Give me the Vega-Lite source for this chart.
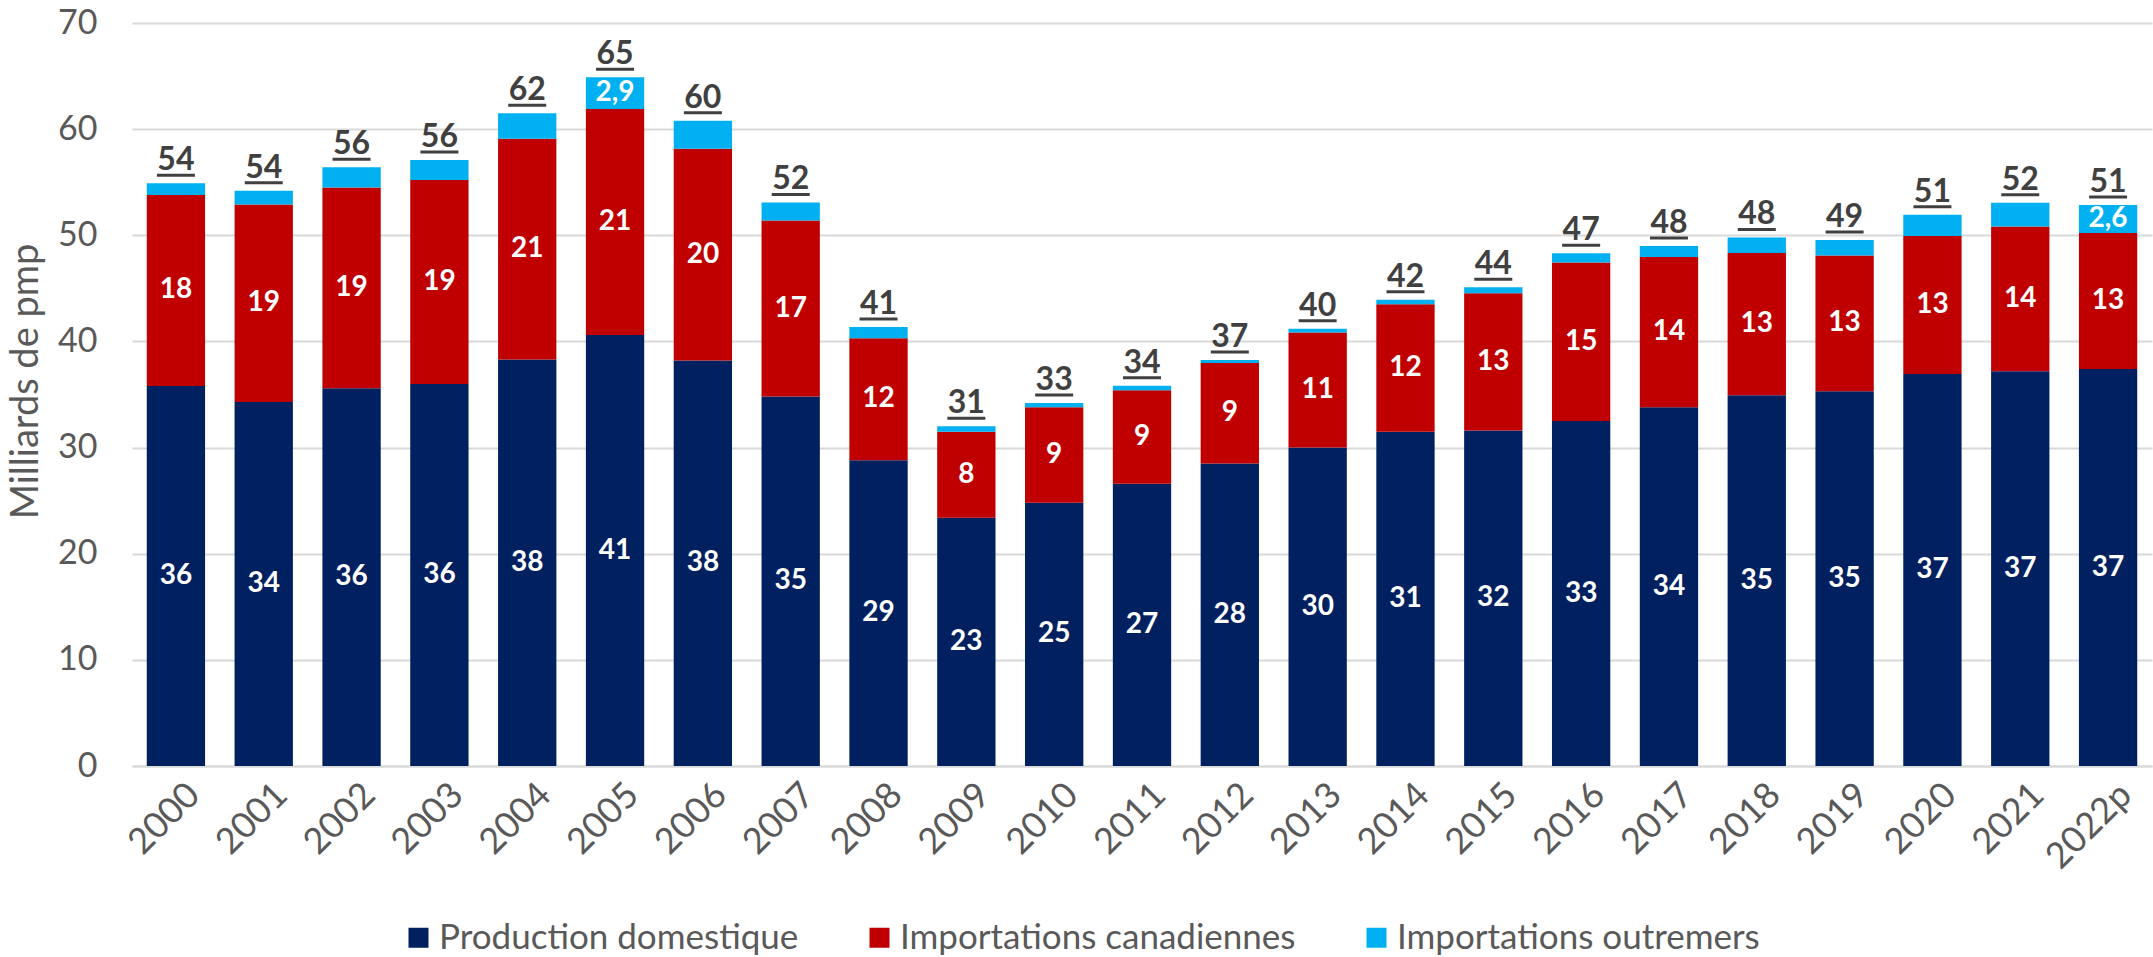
{
  "$schema": "https://vega.github.io/schema/vega-lite/v6.json",
  "width": 2020,
  "height": 743,
  "autosize": {"type": "none"},
  "padding": {"left": 132, "top": 23, "right": 1, "bottom": 191},
  "background": "white",
  "config": {
    "font": "Lato",
    "view": {"stroke": null},
    "axis": {"labelFont": "Lato", "labelColor": "#595959", "titleColor": "#595959", "titleFont": "Lato", "titleFontWeight": "normal", "domain": false, "ticks": false, "gridColor": "#D9D9D9", "gridWidth": 2},
    "axisX": {"labelFontSize": 36, "labelAngle": -45, "labelAlign": "right", "labelBaseline": "top", "labelPadding": 11, "labelOffset": 6, "grid": false, "domain": true, "domainColor": "#D9D9D9", "domainWidth": 2},
    "axisY": {"labelFontSize": 34, "labelPadding": 35, "titleFontSize": 38, "titlePadding": 12, "titleY": 358, "tickCount": 7, "grid": true}
  },
  "data": {"values": [
    {"annee": "2000", "serie": "Production domestique", "rang": 1, "valeur": 35.8, "etiquette": "36", "total": "54"},
    {"annee": "2000", "serie": "Importations canadiennes", "rang": 2, "valeur": 18.0, "etiquette": "18", "total": "54"},
    {"annee": "2000", "serie": "Importations outremers", "rang": 3, "valeur": 1.1, "etiquette": "", "total": "54"},
    {"annee": "2001", "serie": "Production domestique", "rang": 1, "valeur": 34.3, "etiquette": "34", "total": "54"},
    {"annee": "2001", "serie": "Importations canadiennes", "rang": 2, "valeur": 18.6, "etiquette": "19", "total": "54"},
    {"annee": "2001", "serie": "Importations outremers", "rang": 3, "valeur": 1.3, "etiquette": "", "total": "54"},
    {"annee": "2002", "serie": "Production domestique", "rang": 1, "valeur": 35.6, "etiquette": "36", "total": "56"},
    {"annee": "2002", "serie": "Importations canadiennes", "rang": 2, "valeur": 18.9, "etiquette": "19", "total": "56"},
    {"annee": "2002", "serie": "Importations outremers", "rang": 3, "valeur": 1.9, "etiquette": "", "total": "56"},
    {"annee": "2003", "serie": "Production domestique", "rang": 1, "valeur": 36.0, "etiquette": "36", "total": "56"},
    {"annee": "2003", "serie": "Importations canadiennes", "rang": 2, "valeur": 19.2, "etiquette": "19", "total": "56"},
    {"annee": "2003", "serie": "Importations outremers", "rang": 3, "valeur": 1.9, "etiquette": "", "total": "56"},
    {"annee": "2004", "serie": "Production domestique", "rang": 1, "valeur": 38.3, "etiquette": "38", "total": "62"},
    {"annee": "2004", "serie": "Importations canadiennes", "rang": 2, "valeur": 20.8, "etiquette": "21", "total": "62"},
    {"annee": "2004", "serie": "Importations outremers", "rang": 3, "valeur": 2.4, "etiquette": "", "total": "62"},
    {"annee": "2005", "serie": "Production domestique", "rang": 1, "valeur": 40.6, "etiquette": "41", "total": "65"},
    {"annee": "2005", "serie": "Importations canadiennes", "rang": 2, "valeur": 21.3, "etiquette": "21", "total": "65"},
    {"annee": "2005", "serie": "Importations outremers", "rang": 3, "valeur": 3.0, "etiquette": "2,9", "total": "65"},
    {"annee": "2006", "serie": "Production domestique", "rang": 1, "valeur": 38.2, "etiquette": "38", "total": "60"},
    {"annee": "2006", "serie": "Importations canadiennes", "rang": 2, "valeur": 19.95, "etiquette": "20", "total": "60"},
    {"annee": "2006", "serie": "Importations outremers", "rang": 3, "valeur": 2.65, "etiquette": "", "total": "60"},
    {"annee": "2007", "serie": "Production domestique", "rang": 1, "valeur": 34.8, "etiquette": "35", "total": "52"},
    {"annee": "2007", "serie": "Importations canadiennes", "rang": 2, "valeur": 16.6, "etiquette": "17", "total": "52"},
    {"annee": "2007", "serie": "Importations outremers", "rang": 3, "valeur": 1.7, "etiquette": "", "total": "52"},
    {"annee": "2008", "serie": "Production domestique", "rang": 1, "valeur": 28.8, "etiquette": "29", "total": "41"},
    {"annee": "2008", "serie": "Importations canadiennes", "rang": 2, "valeur": 11.5, "etiquette": "12", "total": "41"},
    {"annee": "2008", "serie": "Importations outremers", "rang": 3, "valeur": 1.05, "etiquette": "", "total": "41"},
    {"annee": "2009", "serie": "Production domestique", "rang": 1, "valeur": 23.4, "etiquette": "23", "total": "31"},
    {"annee": "2009", "serie": "Importations canadiennes", "rang": 2, "valeur": 8.1, "etiquette": "8", "total": "31"},
    {"annee": "2009", "serie": "Importations outremers", "rang": 3, "valeur": 0.5, "etiquette": "", "total": "31"},
    {"annee": "2010", "serie": "Production domestique", "rang": 1, "valeur": 24.8, "etiquette": "25", "total": "33"},
    {"annee": "2010", "serie": "Importations canadiennes", "rang": 2, "valeur": 9.0, "etiquette": "9", "total": "33"},
    {"annee": "2010", "serie": "Importations outremers", "rang": 3, "valeur": 0.4, "etiquette": "", "total": "33"},
    {"annee": "2011", "serie": "Production domestique", "rang": 1, "valeur": 26.6, "etiquette": "27", "total": "34"},
    {"annee": "2011", "serie": "Importations canadiennes", "rang": 2, "valeur": 8.8, "etiquette": "9", "total": "34"},
    {"annee": "2011", "serie": "Importations outremers", "rang": 3, "valeur": 0.43, "etiquette": "", "total": "34"},
    {"annee": "2012", "serie": "Production domestique", "rang": 1, "valeur": 28.5, "etiquette": "28", "total": "37"},
    {"annee": "2012", "serie": "Importations canadiennes", "rang": 2, "valeur": 9.46, "etiquette": "9", "total": "37"},
    {"annee": "2012", "serie": "Importations outremers", "rang": 3, "valeur": 0.28, "etiquette": "", "total": "37"},
    {"annee": "2013", "serie": "Production domestique", "rang": 1, "valeur": 30.0, "etiquette": "30", "total": "40"},
    {"annee": "2013", "serie": "Importations canadiennes", "rang": 2, "valeur": 10.85, "etiquette": "11", "total": "40"},
    {"annee": "2013", "serie": "Importations outremers", "rang": 3, "valeur": 0.35, "etiquette": "", "total": "40"},
    {"annee": "2014", "serie": "Production domestique", "rang": 1, "valeur": 31.5, "etiquette": "31", "total": "42"},
    {"annee": "2014", "serie": "Importations canadiennes", "rang": 2, "valeur": 12.0, "etiquette": "12", "total": "42"},
    {"annee": "2014", "serie": "Importations outremers", "rang": 3, "valeur": 0.42, "etiquette": "", "total": "42"},
    {"annee": "2015", "serie": "Production domestique", "rang": 1, "valeur": 31.6, "etiquette": "32", "total": "44"},
    {"annee": "2015", "serie": "Importations canadiennes", "rang": 2, "valeur": 12.95, "etiquette": "13", "total": "44"},
    {"annee": "2015", "serie": "Importations outremers", "rang": 3, "valeur": 0.55, "etiquette": "", "total": "44"},
    {"annee": "2016", "serie": "Production domestique", "rang": 1, "valeur": 32.5, "etiquette": "33", "total": "47"},
    {"annee": "2016", "serie": "Importations canadiennes", "rang": 2, "valeur": 14.93, "etiquette": "15", "total": "47"},
    {"annee": "2016", "serie": "Importations outremers", "rang": 3, "valeur": 0.87, "etiquette": "", "total": "47"},
    {"annee": "2017", "serie": "Production domestique", "rang": 1, "valeur": 33.8, "etiquette": "34", "total": "48"},
    {"annee": "2017", "serie": "Importations canadiennes", "rang": 2, "valeur": 14.16, "etiquette": "14", "total": "48"},
    {"annee": "2017", "serie": "Importations outremers", "rang": 3, "valeur": 1.04, "etiquette": "", "total": "48"},
    {"annee": "2018", "serie": "Production domestique", "rang": 1, "valeur": 34.92, "etiquette": "35", "total": "48"},
    {"annee": "2018", "serie": "Importations canadiennes", "rang": 2, "valeur": 13.42, "etiquette": "13", "total": "48"},
    {"annee": "2018", "serie": "Importations outremers", "rang": 3, "valeur": 1.46, "etiquette": "", "total": "48"},
    {"annee": "2019", "serie": "Production domestique", "rang": 1, "valeur": 35.3, "etiquette": "35", "total": "49"},
    {"annee": "2019", "serie": "Importations canadiennes", "rang": 2, "valeur": 12.8, "etiquette": "13", "total": "49"},
    {"annee": "2019", "serie": "Importations outremers", "rang": 3, "valeur": 1.46, "etiquette": "", "total": "49"},
    {"annee": "2020", "serie": "Production domestique", "rang": 1, "valeur": 36.93, "etiquette": "37", "total": "51"},
    {"annee": "2020", "serie": "Importations canadiennes", "rang": 2, "valeur": 13.0, "etiquette": "13", "total": "51"},
    {"annee": "2020", "serie": "Importations outremers", "rang": 3, "valeur": 2.0, "etiquette": "", "total": "51"},
    {"annee": "2021", "serie": "Production domestique", "rang": 1, "valeur": 37.2, "etiquette": "37", "total": "52"},
    {"annee": "2021", "serie": "Importations canadiennes", "rang": 2, "valeur": 13.62, "etiquette": "14", "total": "52"},
    {"annee": "2021", "serie": "Importations outremers", "rang": 3, "valeur": 2.25, "etiquette": "", "total": "52"},
    {"annee": "2022p", "serie": "Production domestique", "rang": 1, "valeur": 37.4, "etiquette": "37", "total": "51"},
    {"annee": "2022p", "serie": "Importations canadiennes", "rang": 2, "valeur": 12.82, "etiquette": "13", "total": "51"},
    {"annee": "2022p", "serie": "Importations outremers", "rang": 3, "valeur": 2.63, "etiquette": "2,6", "total": "51"}
  ]},
  "transform": [
    {"stack": "valeur", "groupby": ["annee"], "sort": [{"field": "rang", "order": "ascending"}], "as": ["v0", "v1"]},
    {"calculate": "(datum.v0 + datum.v1) / 2", "as": "milieu"}
  ],
  "encoding": {
    "x": {"field": "annee", "type": "nominal", "title": null, "scale": {"paddingInner": 0.336, "paddingOuter": 0.168}}
  },
  "layer": [
    {
      "mark": {"type": "bar"},
      "encoding": {
        "y": {"field": "v0", "type": "quantitative", "title": "Milliards de pmp", "scale": {"domain": [0, 70]}},
        "y2": {"field": "v1"},
        "color": {
          "field": "serie", "type": "nominal",
          "scale": {"domain": ["Production domestique", "Importations canadiennes", "Importations outremers"], "range": ["#002060", "#C00000", "#00B0F0"]},
          "legend": {"orient": "none", "legendX": 269, "legendY": 897, "direction": "horizontal", "title": null, "symbolType": "square", "symbolSize": 400, "symbolStrokeWidth": 0, "labelFontSize": 35, "labelColor": "#595959", "labelFont": "Lato", "columnPadding": 63, "labelOffset": 3, "labelLimit": 0}
        }
      }
    },
    {
      "mark": {"type": "text", "color": "white", "fontWeight": "bold", "fontSize": 28, "baseline": "middle", "align": "center"},
      "encoding": {
        "y": {"field": "milieu", "type": "quantitative", "title": "Milliards de pmp"},
        "text": {"field": "etiquette"}
      }
    },
    {
      "transform": [{"aggregate": [{"op": "max", "field": "v1", "as": "haut"}], "groupby": ["annee", "total"]}],
      "mark": {"type": "text", "color": "#404040", "fontWeight": "bold", "fontSize": 32, "baseline": "alphabetic", "align": "center", "dy": -13},
      "encoding": {
        "y": {"field": "haut", "type": "quantitative", "title": "Milliards de pmp"},
        "text": {"field": "total"}
      }
    },
    {
      "transform": [{"aggregate": [{"op": "max", "field": "v1", "as": "haut"}], "groupby": ["annee", "total"]}],
      "mark": {"type": "tick", "color": "#404040", "size": 38, "thickness": 3, "yOffset": -8, "opacity": 1},
      "encoding": {
        "y": {"field": "haut", "type": "quantitative", "title": "Milliards de pmp"}
      }
    }
  ]
}
